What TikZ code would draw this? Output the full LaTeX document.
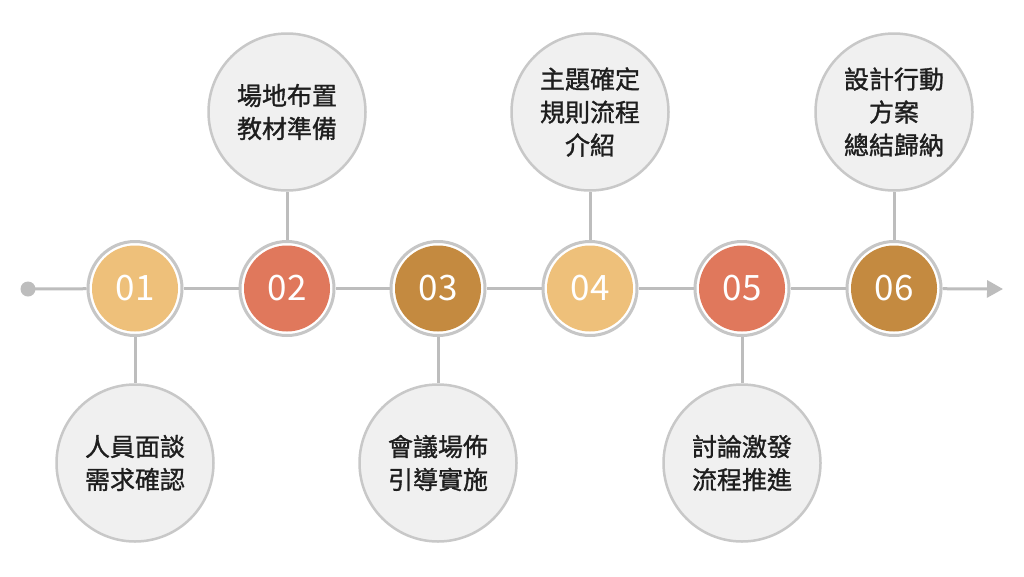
\documentclass[tikz,border=0pt]{standalone}
\usepackage{fontspec}
\newfontfamily\cjk{Noto Sans CJK TC}
\newfontfamily\cjkb[FakeBold=1.2]{Noto Sans CJK TC}
\usetikzlibrary{arrows.meta}
\definecolor{linegray}{HTML}{BDBDBD}
\definecolor{ringgray}{HTML}{C6C6C6}
\definecolor{bubfill}{HTML}{F0F0F0}
\definecolor{bubline}{HTML}{C8C8C8}
\definecolor{cA}{HTML}{EEC07A}
\definecolor{cB}{HTML}{E0785C}
\definecolor{cC}{HTML}{C48A40}
\definecolor{txt}{HTML}{1E1E1E}
\begin{document}
\begin{tikzpicture}[x=1pt,y=-1pt,
  conn/.style={draw=linegray, line width=3pt},
  ring/.style={circle, draw=ringgray, line width=3pt, fill=white, minimum size=94pt, inner sep=0pt},
  numdisc/.style={circle, fill=#1, minimum size=86pt, inner sep=0pt, text=white, font=\cjk\fontsize{35}{35}\selectfont},
  bubble/.style={circle, draw=bubline, line width=2.5pt, fill=bubfill, minimum size=157pt, inner sep=0pt, align=center, text=txt, font=\cjkb\fontsize{25}{33}\selectfont}
]
\useasboundingbox[fill=white] (0,0) rectangle (1024,576);
\fill[linegray] (28,289) circle (7.5pt);
\coordinate (start) at (28,289);
\coordinate (tip) at (1003,289);
\foreach \i/\x in {1/135,2/287,3/438,4/590,5/742,6/894}{
  \node[ring] (r\i) at (\x,288.5) {};
}
\node[numdisc=cA] (n1) at (r1) {01};
\node[numdisc=cB] (n2) at (r2) {02};
\node[numdisc=cC] (n3) at (r3) {03};
\node[numdisc=cA] (n4) at (r4) {04};
\node[numdisc=cB] (n5) at (r5) {05};
\node[numdisc=cC] (n6) at (r6) {06};
\node[bubble] (b1) at (135,463) {人員面談\\需求確認};
\node[bubble] (b2) at (287,112) {場地布置\\教材準備};
\node[bubble] (b3) at (438,463) {會議場佈\\引導實施};
\node[bubble] (b4) at (590,112) {主題確定\\規則流程\\介紹};
\node[bubble] (b5) at (742,463) {討論激發\\流程推進};
\node[bubble] (b6) at (894,112) {設計行動\\方案\\總結歸納};
\draw[conn] (start) -- (r1);
\draw[conn] (r1) -- (r2);
\draw[conn] (r2) -- (r3);
\draw[conn] (r3) -- (r4);
\draw[conn] (r4) -- (r5);
\draw[conn] (r5) -- (r6);
\draw[conn, -{Triangle[length=16pt,width=17pt]}] (r6) -- (tip);
\draw[conn] (r1) -- (b1);
\draw[conn] (b2) -- (r2);
\draw[conn] (r3) -- (b3);
\draw[conn] (b4) -- (r4);
\draw[conn] (r5) -- (b5);
\draw[conn] (b6) -- (r6);
\end{tikzpicture}
\end{document}
